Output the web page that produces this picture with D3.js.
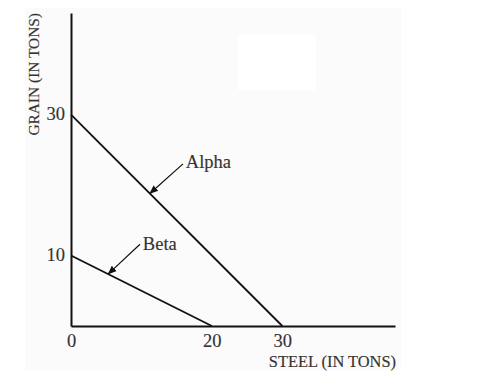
<!DOCTYPE html>
<html>
<head>
<meta charset="utf-8">
<script src="https://cdn.jsdelivr.net/npm/d3@7"></script>
<style>
  body { margin: 0; background: #fff; }
  text { font-family: "Liberation Serif", "Times New Roman", serif; fill: #333; stroke: #333; stroke-width: 0.15; }
</style>
</head>
<body>
<svg class="ppf" width="477" height="385"></svg>
<script>
// production possibilities frontiers (steel on x, grain on y)
const names = ['Alpha', 'Beta'];
const steelMax = [30, 20];
const grainMax = [30, 10];

const xTicks = [0, 20, 30];
const yTicks = [10, 30];

// arrow annotations: [tail steel, tail grain, tip steel, tip grain]
const arrows = [[15.9, 23.0, 11.2, 18.8], [9.8, 11.6, 5.3, 7.4]];
const labelPos = [[16.3, 22.4], [10.2, 10.8]];

const svg = d3.select('.ppf');

// faint scan background like the reference
svg.append('rect').attr('x', 25).attr('y', 8).attr('width', 376).attr('height', 362).attr('fill', '#fbfbfb');
svg.append('rect').attr('x', 238).attr('y', 35).attr('width', 78).attr('height', 55).attr('fill', '#fff');

const x = d3.scaleLinear().domain([0, 46]).range([71, 395]);
const y = d3.scaleLinear().domain([0, 44.4]).range([326, 13]);

svg.append('defs').append('marker')
    .attr('id', 'head')
    .attr('viewBox', '0 0 10 10')
    .attr('refX', 9).attr('refY', 5)
    .attr('markerWidth', 9).attr('markerHeight', 9)
    .attr('markerUnits', 'userSpaceOnUse')
    .attr('orient', 'auto')
  .append('path')
    .attr('d', 'M0,1 L10,5 L0,9 Z')
    .attr('fill', '#111');

// frontier lines
const line = d3.line().x(d => x(d[0])).y(d => y(d[1]));
svg.selectAll('path.frontier').data(names)
  .enter().append('path')
    .attr('class', 'frontier')
    .attr('d', (d, i) => line([[0, grainMax[i]], [steelMax[i], 0]]))
    .attr('fill', 'none')
    .attr('stroke', '#111')
    .attr('stroke-width', 1.8);

// axes
const xAxis = svg.append('g')
    .attr('transform', `translate(0,${y(0)})`)
    .call(d3.axisBottom(x).tickValues(xTicks).tickSize(0).tickPadding(8));
const yAxis = svg.append('g')
    .attr('transform', `translate(${x(0)},0)`)
    .call(d3.axisLeft(y).tickValues(yTicks).tickSize(0).tickPadding(6));

[xAxis, yAxis].forEach(g => {
    g.select('.domain').attr('stroke', '#111').attr('stroke-width', 2);
    g.selectAll('text').attr('font-size', 18.5).attr('font-family', 'Liberation Serif')
        .attr('fill', '#333').attr('stroke', '#333').attr('stroke-width', 0.15);
});
yAxis.selectAll('text').attr('dy', '0.25em');

// axis titles
svg.append('text')
    .attr('x', x(46) + 1).attr('y', 367)
    .attr('text-anchor', 'end')
    .attr('font-size', 16.4)
    .text('STEEL (IN TONS)');
svg.append('text')
    .attr('transform', 'translate(39,13) rotate(-90)')
    .attr('text-anchor', 'end')
    .attr('font-size', 15.4)
    .text('GRAIN (IN TONS)');

// annotation arrows and labels
svg.selectAll('line.arrow').data(arrows)
  .enter().append('line')
    .attr('class', 'arrow')
    .attr('x1', d => x(d[0])).attr('y1', d => y(d[1]))
    .attr('x2', d => x(d[2])).attr('y2', d => y(d[3]))
    .attr('stroke', '#111')
    .attr('stroke-width', 1.2)
    .attr('marker-end', 'url(#head)');

svg.selectAll('text.name').data(names)
  .enter().append('text')
    .attr('class', 'name')
    .attr('x', (d, i) => x(labelPos[i][0]))
    .attr('y', (d, i) => y(labelPos[i][1]))
    .attr('font-size', 18.5)
    .text(d => d);
</script>
</body>
</html>
